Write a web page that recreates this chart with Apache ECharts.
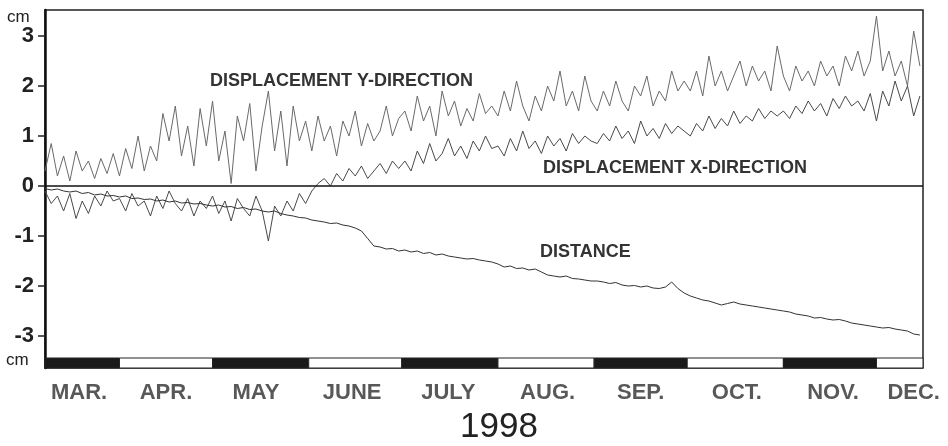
<!DOCTYPE html>
<html><head><meta charset="utf-8">
<script src="https://cdn.jsdelivr.net/npm/echarts@6.0.0/dist/echarts.min.js"></script>
<style>html,body{margin:0;padding:0;background:#fff}#c{width:948px;height:446px}</style>
</head><body><div id="c"></div>
<script>
// ---- data ----
const startDate = '1998-03-08';
const endDate = '1998-12-16';
const stepDays = 2;
const dispY = [
 0.3,0.85,0.2,0.6,0.1,0.7,0.3,0.5,0.15,0.55,0.25,0.65,
 0.2,0.75,0.35,1.0,0.3,0.8,0.5,1.45,0.9,1.6,0.6,1.2,0.4,1.55,0.8,
 1.7,0.5,1.1,0.05,1.4,0.9,1.65,0.3,1.2,1.9,0.7,1.5,0.4,1.6,0.9,1.3,
 0.7,1.4,0.9,1.2,0.6,1.3,1.0,1.5,0.8,1.25,0.9,1.1,1.6,1.0,1.35,
 1.5,1.1,1.8,1.3,1.6,1.0,1.9,1.4,1.7,1.2,1.55,1.3,1.85,1.45,1.6,
 1.4,1.9,1.5,2.1,1.6,1.3,1.8,1.5,2.0,1.7,2.3,1.6,1.9,1.5,2.2,1.7,
 1.5,1.9,1.6,2.1,1.7,1.5,2.0,1.8,2.2,1.6,1.9,1.7,2.3,1.9,2.1,
 1.9,2.3,1.8,2.6,2.0,2.3,1.9,2.2,2.5,2.0,2.4,2.1,2.3,1.9,2.8,
 2.2,1.9,2.4,2.1,2.3,2.0,2.5,2.2,2.4,2.0,2.6,2.3,2.7,2.2,2.5,
 3.4,2.3,2.7,2.2,2.5,2.0,3.1,2.4
];
const dispX = [
 -0.1,-0.35,-0.2,-0.5,-0.15,-0.65,-0.3,-0.55,-0.2,-0.4,-0.1,-0.3,
 -0.25,-0.5,-0.15,-0.4,-0.3,-0.6,-0.2,-0.45,-0.1,-0.35,-0.5,-0.25,-0.6,-0.3,-0.45,
 -0.2,-0.55,-0.3,-0.7,-0.25,-0.45,-0.6,-0.2,-0.5,-1.1,-0.4,-0.6,-0.3,-0.5,-0.15,-0.35,
 -0.1,0.05,0.15,0.0,0.25,0.1,0.35,0.2,0.4,0.15,0.3,0.45,0.25,0.5,0.35,
 0.5,0.3,0.7,0.45,0.85,0.5,0.65,0.95,0.6,0.8,0.55,0.9,0.7,1.0,0.75,
 0.8,0.6,0.95,0.7,1.1,0.75,0.9,0.65,1.0,0.8,0.95,0.7,1.05,0.85,1.0,0.9,
 0.85,1.05,0.9,1.2,0.95,1.1,0.85,1.3,1.0,1.15,0.95,1.25,1.05,1.2,1.1,
 1.0,1.25,1.1,1.4,1.15,1.35,1.2,1.5,1.25,1.4,1.3,1.55,1.35,1.5,1.4,
 1.5,1.35,1.6,1.45,1.7,1.5,1.65,1.4,1.75,1.55,1.8,1.6,1.7,1.5,1.85,
 1.3,1.9,1.6,2.1,1.7,2.0,1.4,1.8
];
const distance = [
 -0.05,-0.08,-0.06,-0.1,-0.12,-0.1,-0.15,-0.13,-0.18,-0.16,-0.2,-0.19,
 -0.22,-0.2,-0.25,-0.24,-0.27,-0.26,-0.3,-0.28,-0.32,-0.3,-0.34,-0.33,-0.36,-0.35,-0.38,
 -0.4,-0.38,-0.42,-0.41,-0.45,-0.43,-0.47,-0.46,-0.5,-0.52,-0.5,-0.55,-0.58,-0.6,-0.63,-0.64,
 -0.68,-0.7,-0.72,-0.75,-0.74,-0.78,-0.8,-0.84,-0.9,-1.05,-1.2,-1.22,-1.26,-1.25,-1.3,
 -1.28,-1.32,-1.3,-1.35,-1.33,-1.38,-1.36,-1.4,-1.42,-1.44,-1.46,-1.45,-1.48,-1.5,-1.52,
 -1.56,-1.62,-1.6,-1.65,-1.64,-1.68,-1.66,-1.72,-1.78,-1.8,-1.82,-1.8,-1.85,-1.86,-1.88,-1.9,
 -1.9,-1.92,-1.95,-1.93,-1.98,-2.0,-1.99,-2.02,-2.0,-2.04,-2.05,-2.02,-1.92,-2.05,-2.14,
 -2.2,-2.24,-2.28,-2.3,-2.34,-2.38,-2.35,-2.32,-2.36,-2.38,-2.4,-2.42,-2.44,-2.46,-2.48,
 -2.5,-2.52,-2.56,-2.58,-2.6,-2.64,-2.63,-2.66,-2.68,-2.67,-2.7,-2.74,-2.76,-2.78,-2.8,
 -2.82,-2.84,-2.83,-2.86,-2.88,-2.9,-2.96,-2.98
];
const monthNames = ['MAR.','APR.','MAY','JUNE','JULY','AUG.','SEP.','OCT.','NOV.','DEC.'];
const monthStarts = ['1998-03-08','1998-04-01','1998-05-01','1998-06-01','1998-07-01','1998-08-01','1998-09-01','1998-10-01','1998-11-01','1998-12-01'];
const monthLabelDates = ['1998-03-19','1998-04-16','1998-05-15','1998-06-15','1998-07-16','1998-08-17','1998-09-16','1998-10-17','1998-11-17','1998-12-13'];
const yTicks = [-3,-2,-1,0,1,2,3];
const yearLabel = '1998';
const seriesNames = ['DISPLACEMENT Y-DIRECTION','DISPLACEMENT X-DIRECTION','DISTANCE'];

// ---- helpers ----
function ts(s){const p=s.split('-').map(Number);return new Date(p[0],p[1]-1,p[2]).getTime();}
const t0 = ts(startDate), tEnd = ts(endDate);
function dateAt(i){const p=startDate.split('-').map(Number);return new Date(p[0],p[1]-1,p[2]+i*stepDays).getTime();}
const toPairs = arr => arr.map((v,i)=>[dateAt(i), v]);
const Y_MIN = -3.64, Y_MAX = 3.52, STRIP_TOP = -3.44;
const FONT = "'Liberation Sans', Arial, Helvetica, sans-serif";

const stripData = monthStarts.map((s,i)=>[ts(s), i+1<monthStarts.length?ts(monthStarts[i+1]):tEnd, i%2]);
const labelData = monthLabelDates.map((s,i)=>[ts(s), Y_MIN, monthNames[i]]);

const chart = echarts.init(document.getElementById('c'), null, {renderer:'canvas'});
chart.setOption({
  animation:false,
  backgroundColor:'#fff',
  grid:{left:45,right:25,top:10,bottom:78,show:true,borderColor:'#222',borderWidth:1.5,backgroundColor:'transparent'},
  xAxis:{type:'time',min:t0,max:tEnd,axisLine:{show:false},axisTick:{show:false},axisLabel:{show:false},splitLine:{show:false}},
  yAxis:{type:'value',min:Y_MIN,max:Y_MAX,
    axisLine:{show:true,lineStyle:{color:'#111',width:2.5}},
    axisTick:{show:true,customValues:yTicks,length:7,lineStyle:{color:'#222',width:1.5}},
    axisLabel:{customValues:yTicks,fontSize:22,fontWeight:'bold',color:'#222',fontFamily:FONT,margin:11},
    splitLine:{show:false}},
  series:[
    {name:seriesNames[0],type:'line',data:toPairs(dispY),showSymbol:false,lineStyle:{color:'#6a6a6a',width:1},z:3},
    {name:seriesNames[1],type:'line',data:toPairs(dispX),showSymbol:false,lineStyle:{color:'#4a4a4a',width:1},z:3,
      markLine:{silent:true,symbol:'none',label:{show:false},lineStyle:{color:'#111',width:1.5,type:'solid'},data:[{yAxis:0}]}},
    {name:seriesNames[2],type:'line',data:toPairs(distance),showSymbol:false,lineStyle:{color:'#333',width:1},z:3},
    {type:'custom',silent:true,z:5,data:stripData,encode:{x:[0,1]},clip:false,
      renderItem:function(params,api){
        const p1=api.coord([api.value(0),STRIP_TOP]);
        const p2=api.coord([api.value(1),Y_MIN]);
        const dark=api.value(2)===0;
        return {type:'rect',shape:{x:p1[0],y:p1[1],width:p2[0]-p1[0],height:p2[1]-p1[1]},
          style:{fill:dark?'#1a1a1a':'#fff',stroke:'#222',lineWidth:1}};
      }},
    {type:'scatter',silent:true,data:labelData,symbolSize:0,clip:false,
      label:{show:true,position:'bottom',distance:14,formatter:p=>p.data[2],fontSize:22,fontWeight:'bold',color:'#2e2e2e',fontFamily:FONT}}
  ],
  graphic:[
    {type:'text',left:7,top:9,style:{text:'cm',fontSize:17,fill:'#222',fontFamily:FONT}},
    {type:'text',left:6,top:352,style:{text:'cm',fontSize:17,fill:'#222',fontFamily:FONT}},
    {type:'text',left:460,top:410,style:{text:yearLabel,fontSize:35,fill:'#222',fontFamily:FONT}},
    {type:'text',left:210,top:72,style:{text:seriesNames[0],fontSize:18,fontWeight:'bold',fill:'#333',fontFamily:FONT}},
    {type:'text',left:543,top:159,style:{text:seriesNames[1],fontSize:18,fontWeight:'bold',fill:'#333',fontFamily:FONT}},
    {type:'text',left:540,top:243,style:{text:seriesNames[2],fontSize:18,fontWeight:'bold',fill:'#333',fontFamily:FONT}}
  ]
});
</script></body></html>
